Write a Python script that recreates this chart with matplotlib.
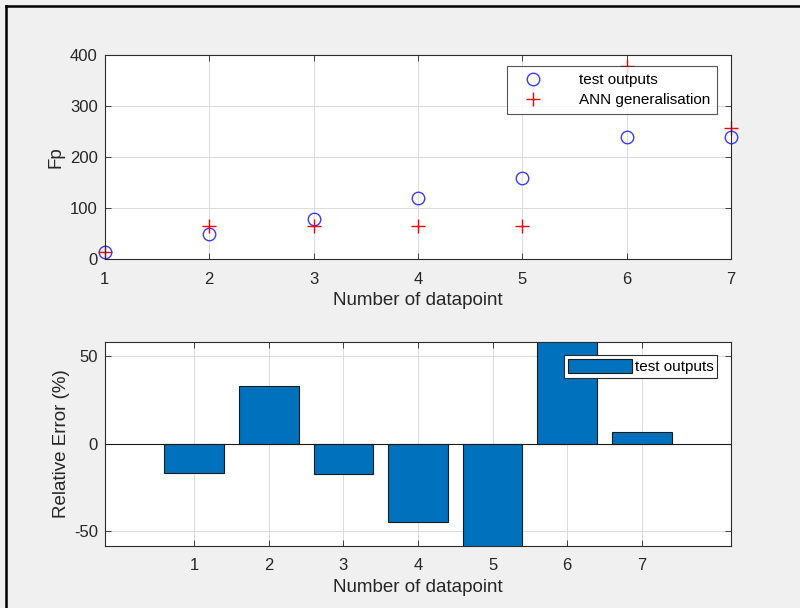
import matplotlib
matplotlib.use("Agg")
import matplotlib.pyplot as plt
from matplotlib.lines import Line2D

plt.rcParams['font.family'] = ['Liberation Sans', 'DejaVu Sans']
plt.rcParams['axes.unicode_minus'] = False

# data
datapoints = [1, 2, 3, 4, 5, 6, 7]
test_outputs = [13, 50, 79, 120, 159, 240, 239]
ann_generalisation = [13, 65, 65, 65, 65, 378, 257]
relative_error = [-17, 33, -17.5, -45, -60, 60, 6.7]

fig_bg = '#F0F0F0'
axis_col = '#262626'
grid_col = '#DCDCDC'

fig = plt.figure(figsize=(8, 6.08), dpi=100, facecolor=fig_bg)


def style_axes(ax):
    ax.set_facecolor('white')
    for s in ax.spines.values():
        s.set_color('#2b2b2b')
        s.set_linewidth(0.8)
    ax.tick_params(direction='in', length=4, width=0.6, colors=axis_col,
                   labelsize=12, top=True, right=True, labeltop=False,
                   labelright=False, pad=5)
    ax.tick_params(axis='x', pad=9)
    ax.grid(True, color=grid_col, linewidth=0.7)
    ax.set_axisbelow(True)


# scatter of outputs
ax1 = fig.add_axes([0.131, 0.574, 0.783, 0.3355])
style_axes(ax1)
ax1.plot(datapoints, test_outputs, 'o', ms=9, mfc='none', mec='#3A3AFF',
         mew=1.0, clip_on=False, label='test outputs')
ax1.plot(datapoints, ann_generalisation, '+', ms=10, color='#FF0000',
         mew=1.0, clip_on=False, label='ANN generalisation')
ax1.set_xlim(1, 7)
ax1.set_ylim(0, 400)
ax1.set_xticks(datapoints)
ax1.set_yticks([0, 100, 200, 300, 400])
ax1.set_xlabel('Number of datapoint', fontsize=13.5, color=axis_col, labelpad=4)
ax1.set_ylabel('Fp', fontsize=13.5, color=axis_col, labelpad=4)
leg1 = ax1.legend(loc='upper right', bbox_to_anchor=(0.978, 0.945), fontsize=11,
                  frameon=True, fancybox=False, edgecolor='#2b2b2b',
                  borderpad=0.45, handletextpad=1.7, handlelength=2.6,
                  labelspacing=0.4, borderaxespad=0)
leg1.get_frame().set_linewidth(0.8)

# relative error bars
ax2 = fig.add_axes([0.131, 0.102, 0.783, 0.3355])
style_axes(ax2)
ax2.bar(datapoints, relative_error, width=0.8, color='#0072BD',
        edgecolor='#1a1a1a', linewidth=0.8, label='test outputs', zorder=2)
ax2.axhline(0, color='#1a1a1a', linewidth=0.8, zorder=3)
ax2.set_xlim(-0.2, 8.2)
ax2.set_ylim(-58.5, 58)
ax2.set_xticks(datapoints)
ax2.set_yticks([-50, 0, 50])
ax2.set_xlabel('Number of datapoint', fontsize=13.5, color=axis_col, labelpad=4)
ax2.set_ylabel('Relative Error (%)', fontsize=13.5, color=axis_col, labelpad=3)
leg2 = ax2.legend(loc='upper right', bbox_to_anchor=(0.978, 0.935), fontsize=11,
                  frameon=True, fancybox=False, edgecolor='#2b2b2b',
                  borderpad=0.25, handletextpad=0.2, handlelength=4.2,
                  handleheight=1.0, borderaxespad=0, framealpha=1)
leg2.get_frame().set_linewidth(0.8)

# window frame on top and left
fig.add_artist(Line2D([0.008, 1.0], [0.990, 0.990], color='black',
                      linewidth=1.8, transform=fig.transFigure))
fig.add_artist(Line2D([0.008, 0.008], [0.0, 0.990], color='black',
                      linewidth=1.8, transform=fig.transFigure))

fig.savefig('out.png', dpi=100, facecolor=fig_bg)
